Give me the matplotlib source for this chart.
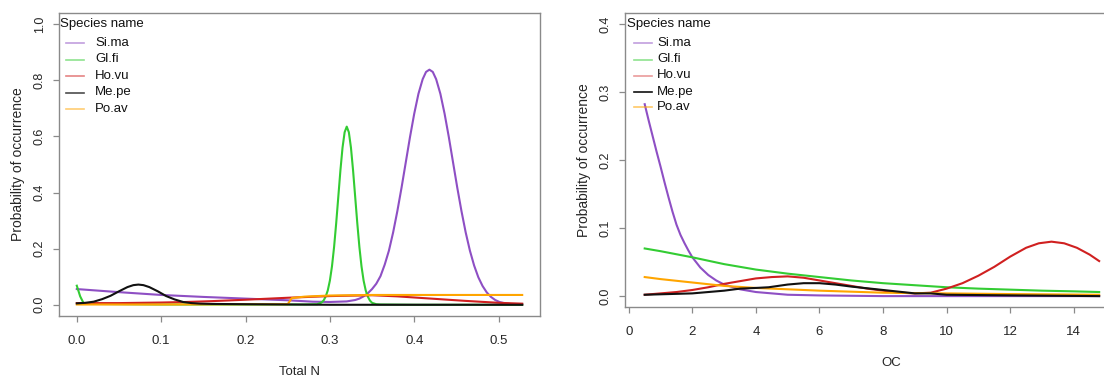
import numpy as np
import matplotlib
matplotlib.use("Agg")
import matplotlib.pyplot as plt
from matplotlib import font_manager

# ---------------- data ----------------
species = ["Si.ma", "Gl.fi", "Ho.vu", "Me.pe", "Po.av"]
colors = ["#8E4FC4", "#33CC33", "#D02020", "#111111", "#FFA500"]

# Left panel: Total N
sima_n_x = [0.000, 0.050, 0.100, 0.150, 0.200, 0.250, 0.280, 0.300, 0.320, 0.330, 0.335, 0.340,
            0.345, 0.350, 0.355, 0.360, 0.365, 0.370, 0.375, 0.380, 0.385, 0.390, 0.395, 0.400,
            0.405, 0.410, 0.414, 0.418, 0.422, 0.426, 0.431, 0.436, 0.441, 0.446, 0.451, 0.456,
            0.461, 0.466, 0.471, 0.476, 0.481, 0.486, 0.491, 0.496, 0.501, 0.508, 0.516, 0.528]
sima_n_y = [0.056, 0.045, 0.035, 0.028, 0.022, 0.016, 0.011, 0.010, 0.012, 0.017, 0.022, 0.030,
            0.041, 0.056, 0.075, 0.102, 0.143, 0.193, 0.258, 0.334, 0.418, 0.508, 0.598, 0.681,
            0.752, 0.804, 0.830, 0.838, 0.830, 0.804, 0.752, 0.681, 0.598, 0.508, 0.418, 0.334,
            0.258, 0.193, 0.140, 0.098, 0.067, 0.044, 0.028, 0.017, 0.010, 0.005, 0.002, 0.001]

glfi_n_x = [0.000, 0.004, 0.008, 0.020, 0.100, 0.200, 0.270, 0.285, 0.290, 0.2925, 0.295, 0.2975,
            0.300, 0.3025, 0.305, 0.3075, 0.310, 0.3125, 0.315, 0.3175, 0.320, 0.3225, 0.325,
            0.3275, 0.330, 0.3325, 0.335, 0.3375, 0.340, 0.3425, 0.345, 0.3475, 0.350, 0.355,
            0.360, 0.400, 0.528]
glfi_n_y = [0.068, 0.030, 0.006, 0.003, 0.001, 0.001, 0.001, 0.002, 0.008, 0.015, 0.029, 0.051,
            0.086, 0.137, 0.206, 0.291, 0.385, 0.479, 0.560, 0.615, 0.635, 0.615, 0.560,
            0.479, 0.385, 0.291, 0.206, 0.137, 0.086, 0.051, 0.029, 0.015, 0.007, 0.002,
            0.001, 0.000, 0.000]

hovu_n_x = [0.000, 0.050, 0.100, 0.130, 0.160, 0.200, 0.250, 0.300, 0.350, 0.380, 0.420, 0.460, 0.500, 0.528]
hovu_n_y = [0.006, 0.006, 0.008, 0.010, 0.013, 0.018, 0.025, 0.031, 0.034, 0.030, 0.022, 0.014, 0.007, 0.004]

mepe_n_x = [0.000, 0.010, 0.020, 0.030, 0.040, 0.050, 0.060, 0.067, 0.073, 0.079, 0.086, 0.096,
            0.106, 0.116, 0.126, 0.136, 0.146, 0.160, 0.200, 0.250, 0.300, 0.528]
mepe_n_y = [0.005, 0.007, 0.011, 0.020, 0.032, 0.048, 0.063, 0.070, 0.072, 0.070, 0.063, 0.048,
            0.031, 0.019, 0.010, 0.006, 0.004, 0.003, 0.002, 0.001, 0.000, 0.000]

poav_n_x = [0.000, 0.100, 0.200, 0.250, 0.255, 0.270, 0.300, 0.350, 0.400, 0.450, 0.500, 0.528]
poav_n_y = [0.001, 0.001, 0.002, 0.002, 0.024, 0.029, 0.033, 0.035, 0.035, 0.035, 0.035, 0.035]

# Right panel: OC
sima_oc_x = [0.5, 0.625, 0.75, 0.875, 1.0, 1.125, 1.25, 1.375, 1.5, 1.625, 1.75, 1.875, 2.0,
             2.25, 2.5, 2.75, 3.0, 3.5, 4.0, 4.5, 5.0, 6.0, 8.0, 14.8]
sima_oc_y = [0.282, 0.258, 0.235, 0.212, 0.190, 0.167, 0.145, 0.124, 0.105, 0.090, 0.078, 0.067,
             0.057, 0.042, 0.031, 0.023, 0.017, 0.010, 0.006, 0.004, 0.002, 0.001, 0.000, 0.000]

glfi_oc_x = [0.5, 1, 2, 3, 4, 5, 6, 7, 8, 9, 10, 11, 12, 13, 14, 14.8]
glfi_oc_y = [0.070, 0.066, 0.057, 0.047, 0.039, 0.033, 0.028, 0.023, 0.019, 0.016, 0.013, 0.011,
             0.0095, 0.008, 0.007, 0.006]

hovu_oc_x = [0.5, 1, 1.5, 2, 2.5, 3, 3.5, 4, 4.5, 5, 5.5, 6, 6.5, 7, 7.5, 8, 8.5, 9, 9.5,
             10, 10.5, 11, 11.5, 12, 12.5, 12.9, 13.3, 13.7, 14.1, 14.5, 14.8]
hovu_oc_y = [0.002, 0.004, 0.006, 0.009, 0.013, 0.018, 0.022, 0.026, 0.028, 0.029, 0.027, 0.023,
             0.019, 0.015, 0.011, 0.008, 0.005, 0.004, 0.005,
             0.011, 0.019, 0.030, 0.043, 0.058, 0.071, 0.0776, 0.080, 0.0776, 0.071, 0.061, 0.0515]

mepe_oc_x = [0.5, 2, 3, 3.5, 4, 4.4, 5, 5.5, 6, 6.5, 7, 8, 9, 9.5, 10, 12.2, 14.8]
mepe_oc_y = [0.002, 0.004, 0.008, 0.011, 0.012, 0.013, 0.017, 0.019, 0.019, 0.017, 0.014, 0.009,
             0.004, 0.004, 0.002, 0.001, 0.000]

poav_oc_x = [0.5, 1, 2, 3, 4, 6, 8, 10, 12, 14.8]
poav_oc_y = [0.028, 0.025, 0.020, 0.015, 0.012, 0.008, 0.005, 0.004, 0.003, 0.002]

left_xticks = [0.0, 0.1, 0.2, 0.3, 0.4, 0.5]
left_yticks = [0.0, 0.2, 0.4, 0.6, 0.8, 1.0]
right_xticks = [0, 2, 4, 6, 8, 10, 12, 14]
right_yticks = [0.0, 0.1, 0.2, 0.3, 0.4]

# ---------------- fonts ----------------
names = {f.name for f in font_manager.fontManager.ttflist}
narrow = "Liberation Sans Narrow" if "Liberation Sans Narrow" in names else "Liberation Sans"
regular = "Liberation Sans"

W, H = 1104, 377
fig = plt.figure(figsize=(W / 100, H / 100), dpi=100)

def ax_rect(x0, x1, ytop, ybot):
    return [x0 / W, (H - ybot) / H, (x1 - x0) / W, (ybot - ytop) / H]

axL = fig.add_axes(ax_rect(59, 540, 13, 316))
axR = fig.add_axes(ax_rect(625, 1157, 13, 307))

order = [0, 1, 2, 4, 3]
left_data = [(sima_n_x, sima_n_y), (glfi_n_x, glfi_n_y), (hovu_n_x, hovu_n_y),
             (mepe_n_x, mepe_n_y), (poav_n_x, poav_n_y)]
right_data = [(sima_oc_x, sima_oc_y), (glfi_oc_x, glfi_oc_y), (hovu_oc_x, hovu_oc_y),
              (mepe_oc_x, mepe_oc_y), (poav_oc_x, poav_oc_y)]

spine_c = "#8a8a8a"
text_c = "#262626"

def style(ax, xlim, ylim, xt, yt, xtl, ytl, xlabel):
    ax.set_xlim(*xlim)
    ax.set_ylim(*ylim)
    ax.set_xticks(xt)
    ax.set_xticklabels(xtl, fontfamily=narrow, fontsize=9.5, color=text_c)
    ax.set_yticks(yt)
    ax.set_yticklabels(ytl, fontfamily=regular, fontsize=9, color=text_c, rotation=90, va="center")
    ax.tick_params(direction="out", length=4.5, width=0.9, color=spine_c)
    ax.tick_params(axis="x", pad=9)
    ax.tick_params(axis="y", pad=5)
    for s in ax.spines.values():
        s.set_color(spine_c)
        s.set_linewidth(1.0)
    ax.set_xlabel(xlabel, fontfamily=narrow, fontsize=9.5, color=text_c, labelpad=14)
    ax.set_ylabel("Probability of occurrence", fontfamily=regular, fontsize=10,
                  color=text_c, labelpad=6)

for i in order:
    axL.plot(left_data[i][0], left_data[i][1], color=colors[i], lw=1.5, solid_joinstyle="round")
    axR.plot(right_data[i][0], right_data[i][1], color=colors[i], lw=1.5, solid_joinstyle="round")

style(axL, (-0.0211, 0.5491), (-0.04, 1.04), left_xticks, left_yticks,
      ["0.0", "0.1", "0.2", "0.3", "0.4", "0.5"], ["0.0", "0.2", "0.4", "0.6", "0.8", "1.0"], "Total N")
style(axR, (-0.12, 16.62), (-0.016, 0.416), right_xticks, right_yticks,
      [str(v) for v in right_xticks], ["0.0", "0.1", "0.2", "0.3", "0.4"], "OC")

def legend(ax, title_x, line_x0, line_x1, text_x, rows, alphas):
    tr = fig.transFigure
    ax.text(title_x / W, 1 - rows[0] / H, "Species name", transform=tr, fontfamily=narrow,
            fontsize=9.5, color="#111111", ha="left", va="center")
    for k, sp in enumerate(species):
        y = 1 - rows[k + 1] / H
        fig.add_artist(plt.Line2D([line_x0 / W, line_x1 / W], [y, y], transform=tr,
                                  color=colors[k], lw=1.2, alpha=alphas[k]))
        ax.text(text_x / W, y, sp, transform=tr, fontfamily=narrow, fontsize=9.5,
                color="#111111", ha="left", va="center")

legend(axL, 60, 66, 84, 95, [24, 43, 59.5, 76, 92.5, 109],
       [0.55, 0.55, 0.55, 0.75, 0.55])
legend(axR, 627, 634, 652, 657, [24, 43, 59.5, 75.5, 91.5, 107],
       [0.55, 0.55, 0.45, 1.0, 0.6])

fig.savefig("out.png", dpi=100, facecolor="white")
